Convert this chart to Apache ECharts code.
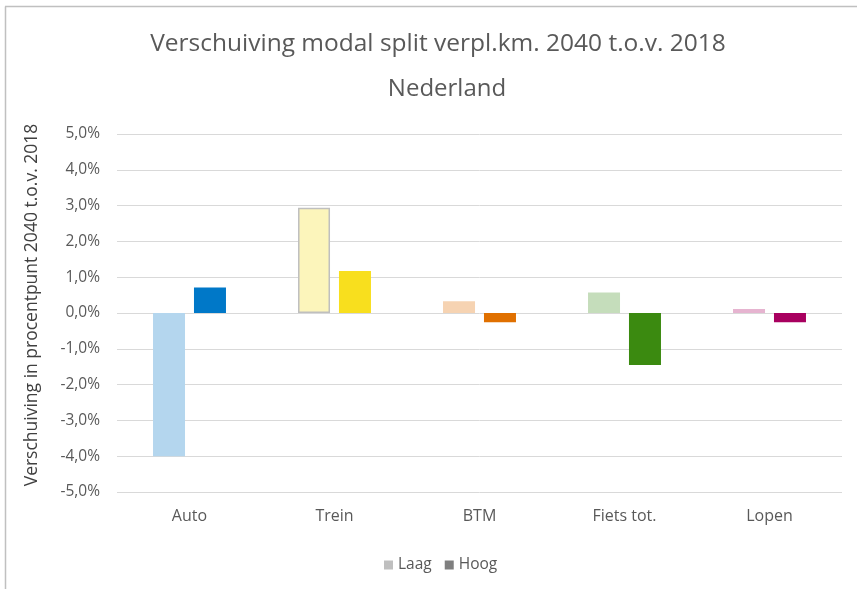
<!DOCTYPE html>
<html><head><meta charset="utf-8">
<script src="https://cdn.jsdelivr.net/npm/echarts@6/dist/echarts.min.js"></script>
<style>html,body{margin:0;padding:0;background:#fff}#c{width:857px;height:589px}</style>
</head><body><div id="c"></div>
<script>
const categories = ['Auto', 'Trein', 'BTM', 'Fiets tot.', 'Lopen'];
const laag = [-4.0, 2.94, 0.33, 0.57, 0.11];
const hoog = [0.71, 1.17, -0.26, -1.45, -0.26];
const laagColors = ['#b4d6ee', '#fcf5bb', '#f6d3b2', '#c5ddbb', '#e6b4d0'];
const hoogColors = ['#0078c8', '#f8df1e', '#e07000', '#3b8a10', '#a8005f'];
const laagBorders = [null, '#bfbfbf', null, null, null];
const yTicks = [-5, -4, -3, -2, -1, 0, 1, 2, 3, 4, 5];
const yAxisTitle = 'Verschuiving in procentpunt 2040 t.o.v. 2018';

const chart = echarts.init(document.getElementById('c'), null, {renderer: 'canvas'});
const font = '"Open Sans", "Liberation Sans", sans-serif';
chart.setOption({
  backgroundColor: '#fff',
  animation: false,
  title: [
    {text: 'Verschuiving modal split verpl.km. 2040 t.o.v. 2018', left: 433, top: 27, textAlign: 'center',
     textStyle: {fontFamily: font, fontSize: 24.5, fontWeight: 'normal', color: '#595959'}},
    {text: 'Nederland', left: 442, top: 72, textAlign: 'center',
     textStyle: {fontFamily: font, fontSize: 24, fontWeight: 'normal', color: '#595959'}}
  ],
  legend: {
    data: [{name: 'Laag', itemStyle: {color: '#bfbfbf'}}, {name: 'Hoog', itemStyle: {color: '#7f7f7f'}}],
    left: 379, top: 552, icon: 'rect', itemWidth: 9, itemHeight: 9, itemGap: 13, itemTextGap: 3,
    textStyle: {fontFamily: font, fontSize: 15.5, color: '#595959'}
  },
  graphic: [
    {type: 'line', shape: {x1: 5.5, y1: 6.5, x2: 5.5, y2: 589}, style: {stroke: '#c0c0c0', lineWidth: 1.5}},
    {type: 'line', shape: {x1: 5, y1: 6.5, x2: 857, y2: 6.5}, style: {stroke: '#c0c0c0', lineWidth: 1.5}},
    {type: 'text', x: 32, y: 305, rotation: Math.PI / 2,
     style: {text: yAxisTitle, fill: '#404040', font: '17.5px ' + font, align: 'center', verticalAlign: 'middle'}}
  ],
  grid: {left: 117, right: 15, top: 134, bottom: 97},
  xAxis: {
    type: 'category', data: categories,
    axisLine: {show: false}, axisTick: {show: false},
    axisLabel: {fontFamily: font, fontSize: 16, color: '#595959', margin: 16}
  },
  yAxis: {
    type: 'value', min: yTicks[0], max: yTicks[yTicks.length - 1], interval: 1,
    axisLine: {show: false}, axisTick: {show: false},
    splitLine: {lineStyle: {color: '#d9d9d9', width: 1}},
    axisLabel: {fontFamily: font, fontSize: 15.5, color: '#595959', margin: 17,
      formatter: v => v.toFixed(1).replace('.', ',') + '%'}
  },
  series: [
    {name: 'Laag', type: 'bar', barWidth: 32, barGap: '28%',
     itemStyle: {color: '#bfbfbf'},
     data: laag.map((v, i) => ({value: v, itemStyle: {color: laagColors[i],
        borderColor: laagBorders[i] || laagColors[i], borderWidth: laagBorders[i] ? 1.5 : 0}}))},
    {name: 'Hoog', type: 'bar', barWidth: 32,
     itemStyle: {color: '#7f7f7f'},
     data: hoog.map((v, i) => ({value: v, itemStyle: {color: hoogColors[i]}}))}
  ]
});
</script></body></html>
